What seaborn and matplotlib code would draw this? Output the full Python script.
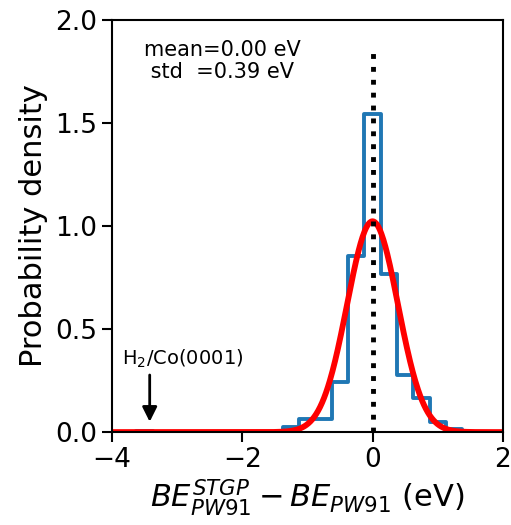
import numpy as np
import pandas as pd
import matplotlib
matplotlib.use("Agg")
import matplotlib.pyplot as plt
import seaborn as sns

# ---- data ----
bin_width = 0.25
bin_centers = [-3.5, -3.25, -3.0, -2.75, -2.5, -2.25, -2.0, -1.75, -1.5,
               -1.25, -1.0, -0.75, -0.5, -0.25, 0.0, 0.25, 0.5, 0.75, 1.0, 1.25]
density = [0.0065, 0, 0, 0, 0, 0, 0, 0, 0,
           0.026, 0.065, 0.065, 0.245, 0.854, 1.543, 0.768, 0.279, 0.163, 0.050, 0.016]
fit_mean = 0.00
fit_std = 0.39
vline_top = 1.85
x_ticks = [-4, -2, 0, 2]
y_ticks = [0.0, 0.5, 1.0, 1.5, 2.0]
annot_label = "H$_2$/Co(0001)"
annot_x = -3.42

sns.set_style("ticks")
plt.rcParams["font.family"] = ["DejaVu Sans"]
plt.rcParams["mathtext.fontset"] = "dejavusans"
for k in ["text.color", "axes.labelcolor", "xtick.color", "ytick.color", "axes.edgecolor"]:
    plt.rcParams[k] = "black"

fig = plt.figure(figsize=(5.11, 5.25), dpi=100)
ax = fig.add_axes([0.219, 0.177, 0.765, 0.785])

hist_df = pd.DataFrame({"center": bin_centers, "density": density})
edges = [c - bin_width / 2 for c in bin_centers] + [bin_centers[-1] + bin_width / 2]
sns.histplot(data=hist_df, x="center", weights="density", bins=edges, element="step",
             fill=False, color="#1f77b4", linewidth=2.8, ax=ax)

xs = np.linspace(-4, 2, 600)
pdf = np.exp(-0.5 * ((xs - fit_mean) / fit_std) ** 2) / (fit_std * np.sqrt(2 * np.pi))
sns.lineplot(x=xs, y=pdf, color="red", linewidth=4.2, ax=ax)

ax.plot([0, 0], [0, vline_top], color="black", linestyle=":", linewidth=3.5)

ax.text(0.083, 0.951, "mean=%.2f eV\n std  =%.2f eV" % (fit_mean, fit_std),
        transform=ax.transAxes, ha="left", va="top", fontsize=15, linespacing=1.12)

ax.text(annot_x - 0.425, 0.325, annot_label, fontsize=14, ha="left", va="baseline")
ax.annotate("", xy=(annot_x, 0.05), xytext=(annot_x, 0.277),
            arrowprops=dict(arrowstyle="-|>", color="black", lw=2, mutation_scale=22,
                            shrinkA=0, shrinkB=0))

ax.set_xlim(-4, 2)
ax.set_ylim(0, 2)
ax.set_xticks(x_ticks)
ax.set_yticks(y_ticks)
ax.set_xticklabels(["\u2212%d" % abs(t) if t < 0 else str(t) for t in x_ticks])
ax.set_yticklabels(["%.1f" % t for t in y_ticks])
ax.tick_params(labelsize=19, length=7, width=1.5, direction="out", colors="black")
for s in ax.spines.values():
    s.set_linewidth(1.5)
    s.set_color("black")
    s.set_visible(True)

ax.set_xlabel(r"$BE_{PW91}^{STGP} - BE_{PW91}$ (eV)", fontsize=22, labelpad=3)
ax.set_ylabel("Probability density", fontsize=22, labelpad=5)

fig.savefig("out.png", dpi=100)
